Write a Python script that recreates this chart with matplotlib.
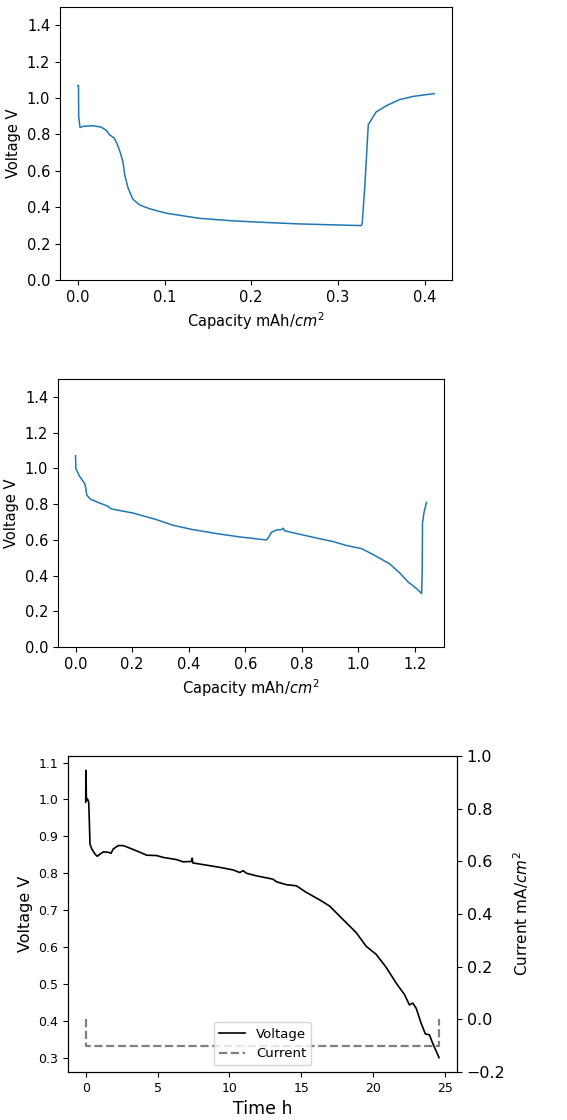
import numpy as np
import matplotlib as mpl
mpl.use("Agg")
import matplotlib.pyplot as plt


# panel 1: first cycle, capacity vs voltage
cap1 = [0.0, 0.0008, 0.001, 0.0025, 0.006, 0.017, 0.027, 0.033, 0.0365, 0.042,
        0.045, 0.049, 0.052, 0.054, 0.058, 0.0635, 0.071, 0.083, 0.102, 0.140,
        0.179, 0.217, 0.256, 0.294, 0.327, 0.328, 0.331, 0.335, 0.344, 0.356,
        0.371, 0.387, 0.411]
volt1 = [1.068, 1.068, 0.90, 0.838, 0.844, 0.848, 0.840, 0.822, 0.798, 0.780,
         0.752, 0.700, 0.651, 0.578, 0.505, 0.444, 0.413, 0.391, 0.367, 0.339,
         0.325, 0.316, 0.308, 0.303, 0.299, 0.312, 0.514, 0.853, 0.923, 0.958,
         0.991, 1.009, 1.024]

# panel 2: second run, capacity vs voltage
cap2 = [0.0, 0.001, 0.014, 0.032, 0.035, 0.040, 0.055, 0.085, 0.114, 0.126,
        0.203, 0.286, 0.345, 0.415, 0.498, 0.581, 0.675, 0.681, 0.693, 0.710,
        0.728, 0.734, 0.740, 0.793, 0.852, 0.911, 0.958, 1.011, 1.053, 1.111,
        1.147, 1.176, 1.206, 1.224, 1.226, 1.227, 1.232, 1.241]
volt2 = [1.071, 0.999, 0.956, 0.915, 0.900, 0.849, 0.825, 0.806, 0.788, 0.773,
         0.750, 0.713, 0.681, 0.657, 0.635, 0.616, 0.599, 0.610, 0.642, 0.655,
         0.657, 0.665, 0.650, 0.631, 0.610, 0.590, 0.568, 0.551, 0.517, 0.465,
         0.414, 0.364, 0.327, 0.299, 0.433, 0.694, 0.750, 0.810]

# panel 3: voltage and current vs time
time_h = [0.0, 0.02, 0.05, 0.12, 0.21, 0.25, 0.30, 0.42, 0.65, 0.81, 1.0, 1.23,
          1.57, 1.76, 1.92, 2.27, 2.62, 3.08, 3.77, 4.24, 4.93, 5.39, 6.32, 6.78,
          7.36, 7.41, 7.45, 8.40, 9.33, 10.25, 10.72, 10.95, 11.18, 11.88, 13.03,
          13.26, 13.96, 14.65, 15.35, 16.27, 16.97, 17.89, 18.82, 19.51, 20.21,
          20.90, 21.60, 22.18, 22.52, 22.75, 22.99, 23.33, 23.63, 23.91, 24.14,
          24.58]
volt3 = [0.993, 1.079, 0.997, 1.002, 0.993, 0.947, 0.879, 0.866, 0.852, 0.846,
         0.852, 0.858, 0.857, 0.854, 0.866, 0.875, 0.875, 0.868, 0.857, 0.849,
         0.848, 0.843, 0.837, 0.831, 0.832, 0.841, 0.828, 0.822, 0.816, 0.809,
         0.802, 0.807, 0.800, 0.793, 0.784, 0.777, 0.769, 0.766, 0.748, 0.728,
         0.711, 0.675, 0.639, 0.602, 0.580, 0.545, 0.502, 0.471, 0.443, 0.448,
         0.434, 0.394, 0.364, 0.362, 0.339, 0.300]
time_i = [0.0, 0.0, 24.6, 24.6]
current = [0.0, -0.1, -0.1, 0.0]

W, H = 567, 1120
fig = plt.figure(figsize=(W / 100, H / 100), dpi=100)


def px_axes(left, top, right, bottom):
    return fig.add_axes([left / W, 1 - bottom / H, (right - left) / W, (bottom - top) / H])


# top panel
ax1 = px_axes(60, 7, 452, 280)
ax1.plot(cap1, volt1, color="#1f77b4", lw=1.1)
ax1.set_ylim(0, 1.5)
ax1.set_yticks(np.arange(0, 1.41, 0.2))
ax1.set_xlabel("Capacity mAh/$cm^2$", fontsize=10.5)
ax1.set_ylabel("Voltage V", fontsize=10.5)
ax1.tick_params(labelsize=10.5)

# middle panel
ax2 = px_axes(58, 379, 444, 647)
ax2.plot(cap2, volt2, color="#1f77b4", lw=1.1)
ax2.set_ylim(0, 1.5)
ax2.set_yticks(np.arange(0, 1.41, 0.2))
ax2.set_xlabel("Capacity mAh/$cm^2$", fontsize=10.5)
ax2.set_ylabel("Voltage V", fontsize=10.5)
ax2.tick_params(labelsize=10.5)

# bottom panel with twin axis for current
ax3 = px_axes(68, 756, 457, 1072)
l1, = ax3.plot(time_h, volt3, color="black", lw=1.2, label="Voltage")
ax3.set_xlabel("Time h", fontsize=12.5)
ax3.set_ylabel("Voltage V", fontsize=11.5)
ax3.tick_params(labelsize=9)

ax4 = ax3.twinx()
l2, = ax4.plot(time_i, current, color="gray", ls="--", lw=1.6, label="Current")
ax4.set_ylim(-0.2, 1.0)
ax4.set_ylabel("Current mA/$cm^2$", fontsize=11)
ax4.tick_params(labelsize=11.5)
ax4.legend(handles=[l1, l2], loc="lower center", fontsize=9.5)

fig.savefig("out.png", dpi=100)
